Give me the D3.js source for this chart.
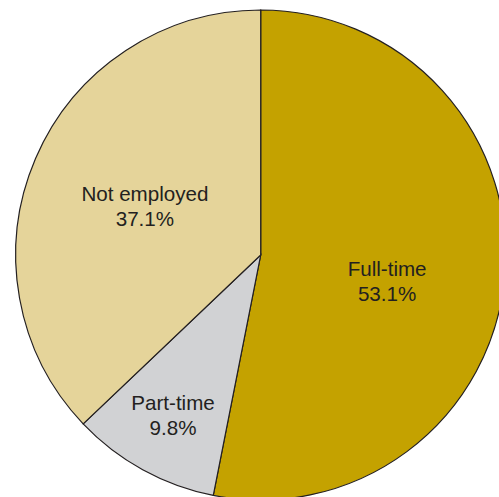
<!DOCTYPE html>
<html>
<head>
<meta charset="utf-8">
<script src="https://cdn.jsdelivr.net/npm/d3@7"></script>
<style>
  html, body { margin: 0; padding: 0; background: #fff; }
  svg { display: block; }
</style>
</head>
<body>
<svg id="chart" width="499" height="497"></svg>
<script>
const categories = ["Full-time", "Part-time", "Not employed"];
const values = [53.1, 9.8, 37.1];
const percentLabels = ["53.1%", "9.8%", "37.1%"];
const colors = ["#C4A200", "#D1D2D4", "#E5D49A"];

const svg = d3.select("#chart");
const cx = 260.7, cy = 255, R = 245;

const data = categories.map((c, i) => ({ category: c, value: values[i], label: percentLabels[i], color: colors[i] }));

const pie = d3.pie().sort(null).value(d => d.value);
const arcs = pie(data);
const arc = d3.arc().innerRadius(0).outerRadius(R);

const g = svg.append("g").attr("transform", `translate(${cx},${cy})`);

g.selectAll("path")
  .data(arcs)
  .join("path")
  .attr("d", arc)
  .attr("fill", d => d.data.color)
  .attr("stroke", "#231F20")
  .attr("stroke-width", 1.2)
  .attr("stroke-linejoin", "miter");

// label placement: radius along mid-angle plus a vertical nudge
const labelCfg = {
  "Full-time": { r: 127, dy: 13 },
  "Part-time": { r: 182, dy: 0 },
  "Not employed": { r: 126, dy: 0 }
};

const labels = g.selectAll("text.lbl")
  .data(arcs)
  .join("text")
  .attr("class", "lbl")
  .attr("text-anchor", "middle")
  .attr("font-family", "Liberation Sans, Arial, Helvetica, sans-serif")
  .attr("font-size", 20.6)
  .attr("fill", "#231F20")
  .attr("transform", d => {
    const cfg = labelCfg[d.data.category];
    const [x, y] = d3.arc().innerRadius(cfg.r).outerRadius(cfg.r).centroid(d);
    return `translate(${x},${y + cfg.dy})`;
  });

labels.append("tspan").attr("x", 0).attr("dy", "-0.2em").text(d => d.data.category);
labels.append("tspan").attr("x", 0).attr("dy", "1.22em").text(d => d.data.label);
</script>
</body>
</html>
